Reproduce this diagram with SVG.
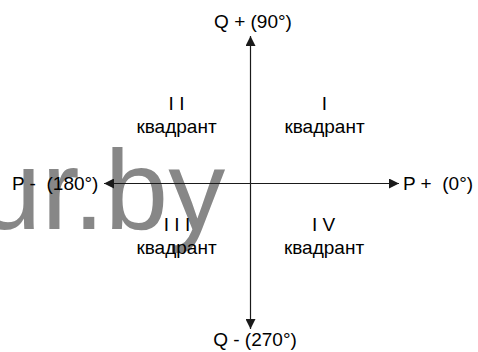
<svg xmlns="http://www.w3.org/2000/svg" width="478" height="352" viewBox="0 0 478 352">
<style>
.lbl{font-family:"Liberation Sans",Arial,sans-serif;font-size:19px;fill:#000}
.mid{text-anchor:middle}
.axis{stroke:#1a1a1a;stroke-width:1.2;fill:none}
.wm{font-family:"Liberation Sans",Arial,sans-serif;font-size:114px;fill:#878787}
</style>
<defs>
<marker id="ah" viewBox="0 0 10 10" refX="10" refY="5" markerWidth="10" markerHeight="10" markerUnits="userSpaceOnUse" orient="auto">
<path d="M0,0 L10,5 L0,10 z" fill="#1a1a1a"/>
</marker>
</defs>
<rect width="478" height="352" fill="#fff"/>
<text class="wm" x="-22" y="229">ur.by</text>
<g id="connectors">
<line class="axis" x1="250.5" y1="183.5" x2="250.5" y2="36" marker-end="url(#ah)"/>
<line class="axis" x1="250.5" y1="183.5" x2="250.5" y2="329" marker-end="url(#ah)"/>
<line class="axis" x1="250.5" y1="183.5" x2="399" y2="183.5" marker-end="url(#ah)"/>
<line class="axis" x1="250.5" y1="183.5" x2="104" y2="183.5" marker-end="url(#ah)"/>
</g>
<g id="q-plus"><text class="lbl mid" x="253" y="28">Q + (90°)</text></g>
<g id="q-minus"><text class="lbl mid" x="255" y="346">Q - (270°)</text></g>
<g id="p-plus"><text class="lbl" x="403" y="190" xml:space="preserve">P +  (0°)</text></g>
<g id="p-minus"><text class="lbl" x="12" y="190" xml:space="preserve">P -  (180°)</text></g>
<g id="quad-2"><text class="lbl mid" x="176.5" y="110" xml:space="preserve">I I</text><text class="lbl mid" x="176.5" y="133">квадрант</text></g>
<g id="quad-1"><text class="lbl mid" x="324.5" y="110">I</text><text class="lbl mid" x="324.5" y="133">квадрант</text></g>
<g id="quad-3"><text class="lbl mid" x="177" y="231" xml:space="preserve">I I I</text><text class="lbl mid" x="176.5" y="254">квадрант</text></g>
<g id="quad-4"><text class="lbl mid" x="323.5" y="231" xml:space="preserve">I V</text><text class="lbl mid" x="324" y="254">квадрант</text></g>
</svg>
